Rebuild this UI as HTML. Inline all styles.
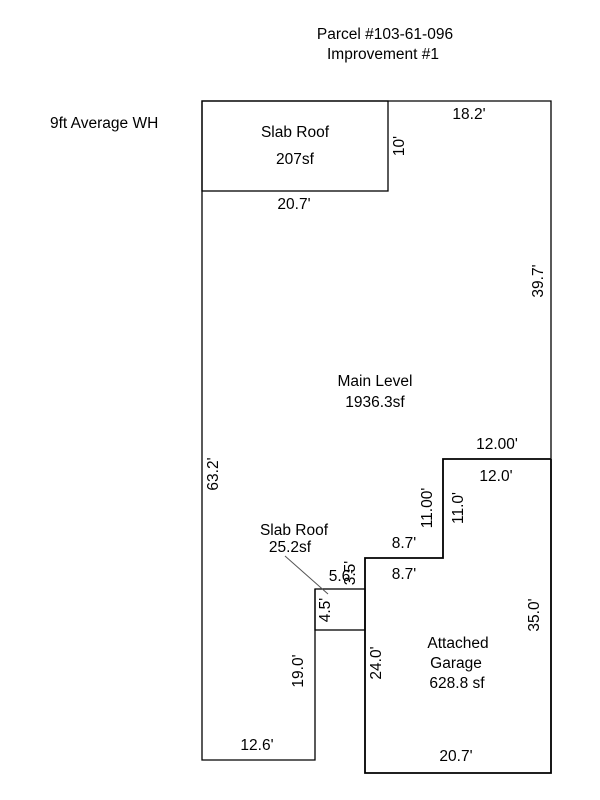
<!DOCTYPE html>
<html><head><meta charset="utf-8"><style>
html,body{margin:0;padding:0;background:#fff;}
svg{display:block;}
text{font-family:"Liberation Sans",Arial,sans-serif;font-size:15.5px;fill:#000;}
</style></head><body>
<svg width="600" height="800" viewBox="0 0 600 800" xmlns="http://www.w3.org/2000/svg">
<g fill="none" stroke="#000" stroke-width="1.3">
<polyline points="315,589 315,760 202,760 202,101 551,101 551,459"/>
<rect x="202" y="101" width="186" height="90"/>
<rect x="315" y="589" width="50" height="41"/>
</g>
<polyline points="551,459 443,459 443,558 365,558 365,773 551,773 551,459" fill="none" stroke="#000" stroke-width="1.8"/>
<line x1="285" y1="556" x2="328" y2="594" stroke="#555" stroke-width="1"/>
<text x="385" y="39" text-anchor="middle">Parcel #103-61-096</text>
<text x="383" y="59" text-anchor="middle">Improvement #1</text>
<text x="50" y="128">9ft Average WH</text>
<text x="295" y="137" text-anchor="middle">Slab Roof</text>
<text x="295" y="164" text-anchor="middle">207sf</text>
<text x="469" y="119" text-anchor="middle">18.2'</text>
<text x="294" y="209" text-anchor="middle">20.7'</text>
<text transform="translate(404,146) rotate(-90)" text-anchor="middle">10'</text>
<text transform="translate(543,281) rotate(-90)" text-anchor="middle">39.7'</text>
<text x="375" y="386" text-anchor="middle">Main Level</text>
<text x="375" y="407" text-anchor="middle">1936.3sf</text>
<text x="497" y="449" text-anchor="middle">12.00'</text>
<text x="496" y="481" text-anchor="middle">12.0'</text>
<text transform="translate(218,474) rotate(-90)" text-anchor="middle">63.2'</text>
<text transform="translate(432,508) rotate(-90)" text-anchor="middle">11.00'</text>
<text transform="translate(463,508) rotate(-90)" text-anchor="middle">11.0'</text>
<text x="294" y="535" text-anchor="middle">Slab Roof</text>
<text x="290" y="552" text-anchor="middle">25.2sf</text>
<text x="404" y="548" text-anchor="middle">8.7'</text>
<text x="404" y="579" text-anchor="middle">8.7'</text>
<text x="341" y="581" text-anchor="middle">5.6'</text>
<text transform="translate(355,573) rotate(-90)" text-anchor="middle">3.5'</text>
<text transform="translate(330,610) rotate(-90)" text-anchor="middle">4.5'</text>
<text transform="translate(539,615) rotate(-90)" text-anchor="middle">35.0'</text>
<text x="458" y="648" text-anchor="middle">Attached</text>
<text x="456" y="668" text-anchor="middle">Garage</text>
<text x="457" y="688" text-anchor="middle">628.8 sf</text>
<text transform="translate(303,671) rotate(-90)" text-anchor="middle">19.0'</text>
<text transform="translate(381,663) rotate(-90)" text-anchor="middle">24.0'</text>
<text x="257" y="750" text-anchor="middle">12.6'</text>
<text x="456" y="761" text-anchor="middle">20.7'</text>
</svg>
</body></html>
